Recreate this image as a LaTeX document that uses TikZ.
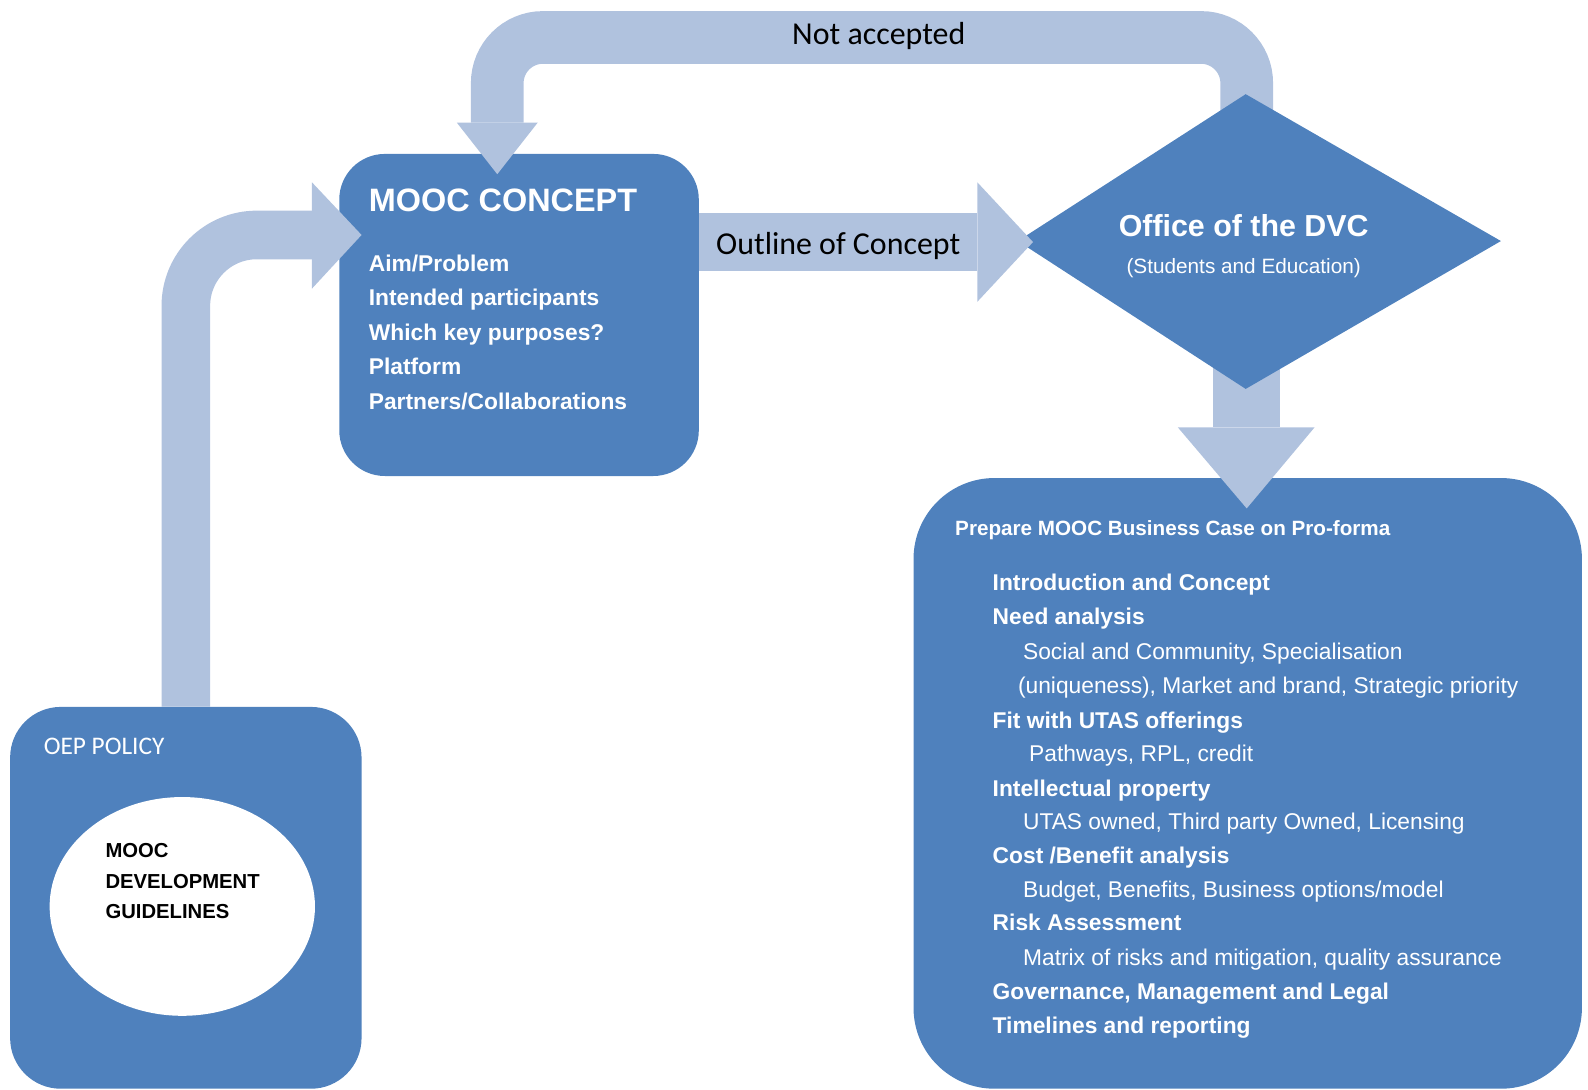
\documentclass[tikz,border=0pt]{standalone}
\usepackage{fontspec}
\setmainfont{Liberation Sans}
\newfontfamily\calfont{Carlito}
\usetikzlibrary{shapes.geometric,backgrounds}
\definecolor{boxblue}{HTML}{4F81BD}
\definecolor{lightband}{HTML}{B0C2DE}
\begin{document}
\begin{tikzpicture}[x=1pt,y=-1pt,
  band/.style={draw=lightband, line cap=butt},
  head/.style={fill=lightband},
  panel/.style={fill=boxblue, draw=none, rectangle, inner sep=0pt},
  bitem/.style={text=white, inner sep=0pt, anchor=base west, font=\fontsize{22.5}{27}\selectfont\bfseries},
  ritem/.style={text=white, inner sep=0pt, anchor=base west, font=\fontsize{22.5}{27}\selectfont},
  lbl/.style={text=black, inner sep=0pt, anchor=base west, font=\calfont\fontsize{31.5}{36}\selectfont},
  gtxt/.style={text=black, inner sep=0pt, anchor=base west, font=\fontsize{20}{24}\selectfont\bfseries},
]
\useasboundingbox (0,0) rectangle (1568,1076);

% panels
\node[panel, minimum width=355pt, minimum height=318pt, rounded corners=45pt] (mooc) at (512.5,311) {};
\node[panel, minimum width=347pt, minimum height=377pt, rounded corners=50pt] (oep) at (183.5,886.5) {};
\node[ellipse, fill=white, draw=none, minimum width=262pt, minimum height=216pt, inner sep=0pt] (guide) at (180,895) {};
\node[panel, minimum width=660pt, minimum height=603pt, rounded corners=80pt] (biz) at (1232,773.5) {};
\fill[boxblue] (1230,93) coordinate (dvctop) -- (1482,238) coordinate (dvcright)
  -- (1230,384) coordinate (dvcbot) -- (1005,238) coordinate (dvcleft) -- cycle;

% bands behind
\begin{scope}[on background layer]
  \coordinate (lhb) at (308,232);
  \draw[band, line width=48pt, rounded corners=70pt] (oep.north) |- (lhb);
  \coordinate (nas) at (1231,150);
  \coordinate (nahb) at (491,121);
  \draw[band, line width=52pt, rounded corners=45pt] (nas) |- (491,37) -- (nahb);
  \coordinate (ohb) at (965,239);
  \draw[band, line width=58pt] (mooc.east |- ohb) -- (ohb);
  \coordinate (ds) at (1231,340);
  \coordinate (dhb) at (1231,422);
  \draw[band, line width=66pt] (ds) -- (dhb);
\end{scope}

% arrowheads
\fill[head] (308,180) -- (357,232) -- (308,285) -- cycle;
\fill[head] (451,121) -- (531,121) -- (491,172) -- cycle;
\fill[head] (965,180) -- (1020,239) -- (965,298) -- cycle;
\fill[head] (1163,422) -- (1298,422) -- (1231,502) -- cycle;

% labels on bands
\node[lbl] (na) at (782,44) {Not accepted};
\node[lbl] (ooc) at (707,251) {Outline of Concept};

% MOOC concept
\node[text=white, inner sep=0pt, anchor=base west, font=\fontsize{32}{36}\selectfont\bfseries] (mt) at (364,209) {MOOC CONCEPT};
\node[bitem] (m1) at (364,268) {Aim/Problem};
\node[bitem] (m2) at (364,302) {Intended participants};
\node[bitem] (m3) at (364,336) {Which key purposes?};
\node[bitem] (m4) at (364,370) {Platform};
\node[bitem] (m5) at (364,404) {Partners/Collaborations};

% DVC
\node[text=white, inner sep=0pt, anchor=base, font=\fontsize{30}{34}\selectfont\bfseries] (dvc) at (1228,234) {Office of the DVC};
\node[text=white, inner sep=0pt, anchor=base, font=\fontsize{20.5}{24}\selectfont] (dvcs) at (1228,270) {(Students and Education)};

% OEP
\node[text=white, inner sep=0pt, anchor=base west, font=\calfont\fontsize{25}{30}\selectfont] (oept) at (43,745) {OEP POLICY};
\node[gtxt] (g1) at (104,847) {MOOC};
\node[gtxt] (g2) at (104,877) {DEVELOPMENT};
\node[gtxt] (g3) at (104,907) {GUIDELINES};

% Business case
\node[text=white, inner sep=0pt, anchor=base west, font=\fontsize{20.4}{24}\selectfont\bfseries] (bt) at (943,529) {Prepare MOOC Business Case on Pro-forma};
\node[bitem] (b1) at (980,583) {Introduction and Concept};
\node[bitem] (b2) at (980,617) {Need analysis};
\node[ritem] (b3) at (1010,651) {Social and Community, Specialisation};
\node[ritem] (b4) at (1005,685) {(uniqueness), Market and brand, Strategic priority};
\node[bitem] (b5) at (980,719) {Fit with UTAS offerings};
\node[ritem] (b6) at (1016,752) {Pathways, RPL, credit};
\node[bitem] (b7) at (980,786) {Intellectual property};
\node[ritem] (b8) at (1010,819) {UTAS owned, Third party Owned, Licensing};
\node[bitem] (b9) at (980,853) {Cost /Benefit analysis};
\node[ritem] (b10) at (1010,886) {Budget, Benefits, Business options/model};
\node[bitem] (b11) at (980,919) {Risk Assessment};
\node[ritem] (b12) at (1010,953) {Matrix of risks and mitigation, quality assurance};
\node[bitem] (b13) at (980,987) {Governance, Management and Legal};
\node[bitem] (b14) at (980,1020) {Timelines and reporting};
\end{tikzpicture}
\end{document}
